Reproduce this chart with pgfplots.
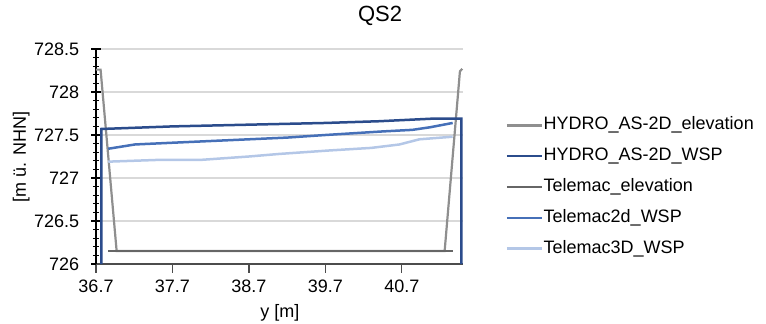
\documentclass[border=0pt]{standalone}
\usepackage{fontspec}
\setmainfont{Liberation Sans}
\usepackage{pgfplots}
\pgfplotsset{compat=1.18}
\definecolor{helev}{HTML}{8F8F8F}
\definecolor{hwsp}{HTML}{2B4C8C}
\definecolor{telev}{HTML}{666666}
\definecolor{tzwei}{HTML}{4670B8}
\definecolor{tdrei}{HTML}{B4C7E7}
\definecolor{gridc}{HTML}{D9D9D9}
\begin{document}
\fontsize{9bp}{11bp}\selectfont
\begin{tikzpicture}
\useasboundingbox (0,0) rectangle (383bp,162bp);
\begin{axis}[
  at={(48bp,30bp)}, anchor=south west,
  scale only axis, width=183.5bp, height=107.5bp,
  xmin=36.7, xmax=41.5, ymin=726, ymax=728.5,
  /pgf/number format/assume math mode=true,
  scaled ticks=false,
  axis lines*=left,
  axis line style={line width=0.6bp},
  x axis line style={draw=black!70, -},
  y axis line style={draw=black, -},
  xtick={36.7,37.7,38.7,39.7,40.7},
  xticklabels={36.7,37.7,38.7,39.7,40.7},
  ytick={726,726.5,727,727.5,728,728.5},
  yticklabels={726,726.5,727,727.5,728,728.5},
  minor y tick num=4,
  x tick style={draw=black!70, line width=0.6bp},
  y tick style={draw=black, line width=0.6bp},
  xtick align=outside,
  ytick align=center,
  major tick length=4.5bp, minor tick length=3bp,
  ymajorgrids, major grid style={draw=gridc, line width=0.7bp},
  every tick label/.append style={font=\fontsize{9bp}{11bp}\selectfont},
  xticklabel style={anchor=center, inner sep=0pt, yshift=-6.5bp},
  yticklabel style={anchor=east, inner sep=0pt, xshift=-6bp},
  title={QS2},
  every axis title shift=0pt,
  title style={at={(axis description cs:0.774,1.153)}, anchor=center, inner sep=0pt, font=\fontsize{11bp}{13bp}\selectfont},
  xlabel={y [m]},
  xlabel style={at={(axis description cs:0.501,-0.228)}, anchor=center, inner sep=0pt},
  ylabel={[m ü. NHN]},
  ylabel style={at={(axis description cs:-0.204,0.498)}, anchor=center, inner sep=0pt},
  clip=false,
  legend style={draw=none, fill=none, at={(1.115,0.358)}, anchor=west, inner sep=0pt,
    row sep=6.9bp, column sep=0.3bp,
    font=\fontsize{9bp}{11bp}\selectfont,
    nodes={inner sep=0pt, text height=6.5bp, text depth=2bp}},
  legend cell align=left,
  legend image code/.code={\draw[#1] (0bp,0bp) -- (17.5bp,0bp);},
]
\addplot[helev, line width=1.1bp] coordinates {
 (36.70,728.26) (36.76,728.26) (36.97,726.15) (41.26,726.15) (41.46,728.24) (41.49,728.27)};
\addlegendentry{HYDRO\_AS-2D\_elevation}
\addplot[hwsp, line width=1.25bp] coordinates {
 (36.77,726.0) (36.77,727.57) (37.7,727.60) (38.7,727.62) (39.7,727.64) (40.4,727.66) (41.1,727.69) (41.48,727.69) (41.48,726.0)};
\addlegendentry{HYDRO\_AS-2D\_WSP}
\addplot[telev, line width=1.1bp] coordinates {
 (36.86,726.15) (41.365,726.15)};
\addlegendentry{Telemac\_elevation}
\addplot[tzwei, line width=1.25bp] coordinates {
 (36.86,727.34) (37.21,727.39) (37.7,727.41) (38.7,727.45) (39.2,727.47) (39.7,727.50) (40.42,727.54) (40.84,727.56) (41.07,727.59) (41.365,727.64)};
\addlegendentry{Telemac2d\_WSP}
\addplot[tdrei, line width=1.25bp] coordinates {
 (36.86,727.19) (37.5,727.21) (38.06,727.21) (38.7,727.25) (39.1,727.28) (39.75,727.32) (40.3,727.35) (40.67,727.39) (40.93,727.45) (41.365,727.48)};
\addlegendentry{Telemac3D\_WSP}
\end{axis}
\end{tikzpicture}
\end{document}
